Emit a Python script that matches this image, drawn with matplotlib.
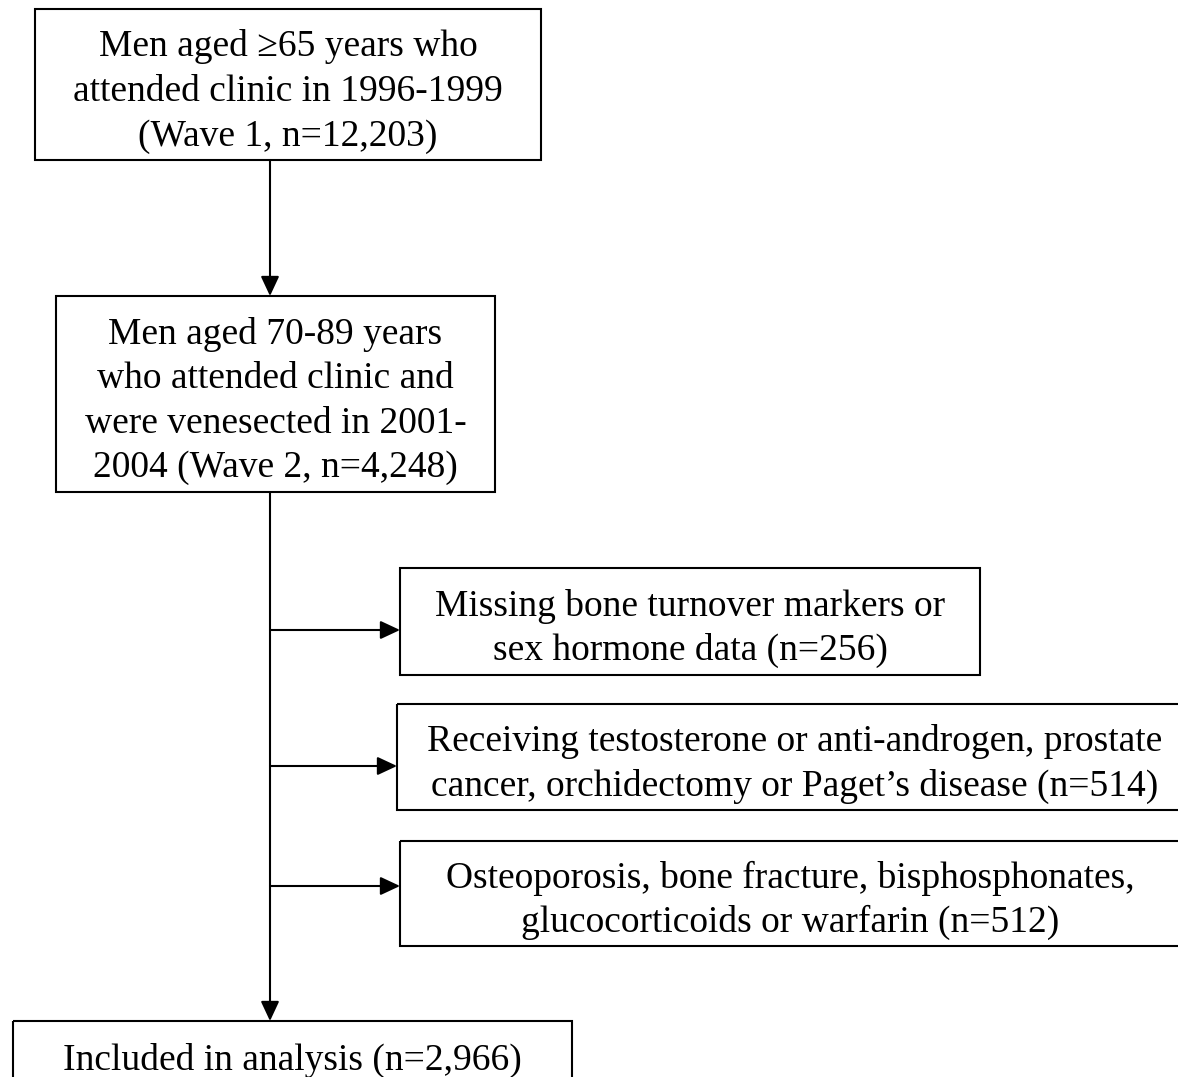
"""Flow chart of participant selection (Wave 1 -> Wave 2 -> analysis)."""

import matplotlib.pyplot as plt
from matplotlib.patches import Rectangle

# Box texts, one list of lines per box
wave1_lines = ["Men aged \u226565 years who", "attended clinic in 1996-1999", "(Wave 1, n=12,203)"]
wave2_lines = ["Men aged 70-89 years", "who attended clinic and",
               "were venesected in 2001-", "2004 (Wave 2, n=4,248)"]
excl_lines = [
    ["Missing bone turnover markers or", "sex hormone data (n=256)"],
    ["Receiving testosterone or anti-androgen, prostate",
     "cancer, orchidectomy or Paget\u2019s disease (n=514)"],
    ["Osteoporosis, bone fracture, bisphosphonates,",
     "glucocorticoids or warfarin (n=512)"],
]
final_lines = ["Included in analysis (n=2,966)"]

# Layout in pixels (x0, y0, x1, y1), y going down
W, H = 1178, 1077
wave1_box = (35, 9, 541, 160)
wave2_box = (56, 296, 495, 492)
excl_boxes = [(400, 568, 980, 675), (397, 704, 1192, 810), (400, 841, 1180, 946)]
final_box = (13, 1021, 572, 1086)
excl_y = [630, 766, 886]
spine_x = 270

LINE_H = 44.5
FONT = "Liberation Serif"
FS = 27

fig = plt.figure(figsize=(W / 100, H / 100), dpi=100)
ax = fig.add_axes([0, 0, 1, 1])
ax.set_xlim(0, W)
ax.set_ylim(H, 0)
ax.axis("off")


def draw_box(box, lines):
    x0, y0, x1, y1 = box
    ax.add_patch(Rectangle((x0, y0), x1 - x0, y1 - y0, fill=False,
                           edgecolor="black", linewidth=1.5))
    cx = (x0 + x1) / 2
    cy = (y0 + y1) / 2
    n = len(lines)
    for i, line in enumerate(lines):
        # baseline sits a bit below the line's slot centre
        y = cy + (i - (n - 1) / 2) * LINE_H + 16.5
        ax.text(cx, y, line, ha="center", va="baseline",
                family=FONT, fontsize=FS, color="black")


def arrow(x0, y0, x1, y1):
    ax.annotate("", xy=(x1, y1), xytext=(x0, y0),
                arrowprops=dict(arrowstyle="-|>,head_length=0.6,head_width=0.28",
                                mutation_scale=20, color="black", lw=1.5,
                                shrinkA=0, shrinkB=0))


draw_box(wave1_box, wave1_lines)
draw_box(wave2_box, wave2_lines)
for box, lines in zip(excl_boxes, excl_lines):
    draw_box(box, lines)
draw_box(final_box, final_lines)

arrow(spine_x, wave1_box[3], spine_x, wave2_box[1])
arrow(spine_x, wave2_box[3], spine_x, final_box[1])
for y, box in zip(excl_y, excl_boxes):
    arrow(spine_x, y, box[0], y)

fig.savefig("out.png", dpi=100, facecolor="white")
